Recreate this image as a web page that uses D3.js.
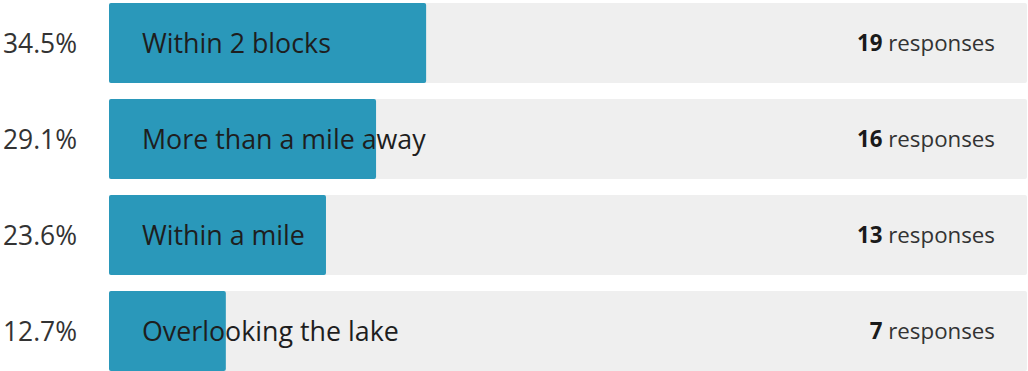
<!DOCTYPE html>
<html>
<head>
<meta charset="utf-8">
<script src="https://cdn.jsdelivr.net/npm/d3@7"></script>
<style>
  html, body { margin: 0; padding: 0; background: #ffffff; }
  svg { display: block; }
</style>
</head>
<body>
<svg id="chart" width="1028" height="371"></svg>
<script>
// Survey answers and how many people picked each one
const categories = ["Within 2 blocks", "More than a mile away", "Within a mile", "Overlooking the lake"];
const responses = [19, 16, 13, 7];

const width = 1028, height = 371;
const total = d3.sum(responses);
const rows = categories.map((c, i) => ({ label: c, count: responses[i], share: responses[i] / total }));

const svg = d3.select("#chart");
const fontFamily = "'Open Sans', 'Noto Sans', sans-serif";

const x = d3.scaleLinear().domain([0, 1]).range([109, 1027]);
const y = d3.scaleBand().domain(categories).range([3, 371]).paddingInner(1 / 6).paddingOuter(0);
const pct = d3.format(".1%");

const g = svg.selectAll("g.row").data(rows).join("g").attr("class", "row");

// grey track spanning the full 0–100% range
g.append("rect")
  .attr("x", x(0))
  .attr("y", d => y(d.label))
  .attr("width", x(1) - x(0))
  .attr("height", y.bandwidth())
  .attr("rx", 2)
  .attr("fill", "#efefef");

// filled share
g.append("rect")
  .attr("x", x(0))
  .attr("y", d => y(d.label))
  .attr("width", d => x(d.share) - x(0))
  .attr("height", y.bandwidth())
  .attr("rx", 2)
  .attr("fill", "#2a98ba");

// percentage on the left
g.append("text")
  .attr("x", 3)
  .attr("y", d => y(d.label) + y.bandwidth() / 2)
  .attr("dy", "0.36em")
  .attr("font-family", fontFamily)
  .attr("font-size", 26.4)
  .attr("fill", "#333333")
  .text(d => pct(d.share));

// answer text inside the track
g.append("text")
  .attr("x", x(0) + 33)
  .attr("y", d => y(d.label) + y.bandwidth() / 2)
  .attr("dy", "0.36em")
  .attr("font-family", fontFamily)
  .attr("font-size", 26.8)
  .attr("fill", "#1e1e1e")
  .text(d => d.label);

// response count on the right
const rt = g.append("text")
  .attr("x", x(1) - 32)
  .attr("y", d => y(d.label) + y.bandwidth() / 2)
  .attr("dy", "0.36em")
  .attr("text-anchor", "end")
  .attr("font-family", fontFamily)
  .attr("font-size", 22.3)
  .attr("fill", "#333333");
rt.append("tspan").attr("font-weight", "bold").attr("fill", "#1a1a1a").text(d => d.count);
rt.append("tspan").text(" responses");
</script>
</body>
</html>
